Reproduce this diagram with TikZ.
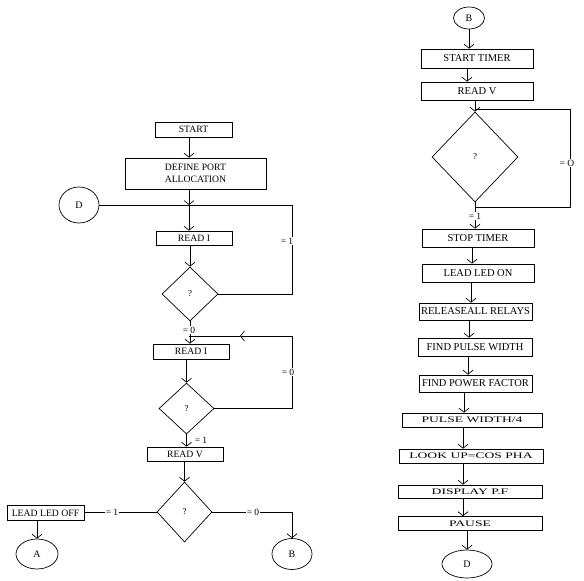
\documentclass[tikz,border=0pt]{standalone}
\usepackage{fontspec}
\setmainfont{Liberation Serif}
\usetikzlibrary{shapes.geometric,arrows.meta}
\begin{document}
\begin{tikzpicture}[x=1pt,y=-1pt,line width=0.7pt,
  >={Straight Barb[length=4pt,width=10pt]},
  arr/.style={->},
  boxL/.style={draw,rectangle,inner sep=0pt,font=\fontsize{9.7}{12}\selectfont,align=center},
  boxR/.style={draw,rectangle,inner sep=0pt,font=\fontsize{10.5}{12}\selectfont},
  boxW/.style={draw,rectangle,inner sep=0pt},
  dia/.style={draw,diamond,inner sep=0pt,font=\fontsize{9}{10}\selectfont},
  conn/.style={draw,ellipse,inner sep=0pt,font=\fontsize{10}{12}\selectfont},
  lbl/.style={fill=white,inner sep=0.8pt,font=\fontsize{9.5}{10}\selectfont}]
\useasboundingbox (0,0) rectangle (584,581);
% ---------- left column ----------
\node[boxL,minimum width=77pt,minimum height=15pt] (start) at (193.5,129.5) {START};
\node[boxL,minimum width=141pt,minimum height=31pt] (define) at (195.5,173.5) {DEFINE PORT\\ALLOCATION};
\node[conn,minimum width=40pt,minimum height=36pt] (D) at (79,205) {D};
\coordinate (J) at (189,205);
\coordinate (R1) at (292,205);
\node[boxL,minimum width=76pt,minimum height=14pt] (readI) at (194,238) {READ I};
\node[dia,minimum width=56pt,minimum height=54pt] (d1) at (190,294) {?};
\node[boxL,minimum width=76pt,minimum height=15pt] (readII) at (191,351.5) {READ I};
\coordinate (J2) at (189,336);
\coordinate (R2) at (292,336);
\coordinate (M2) at (240,336);
\node[dia,minimum width=55pt,minimum height=51pt] (d2) at (186.5,408.5) {?};
\node[boxL,minimum width=76pt,minimum height=14pt] (readV) at (185,454) {READ V};
\node[dia,minimum width=55pt,minimum height=60pt] (d3) at (184.5,512) {?};
\node[boxL,minimum width=77pt,minimum height=15pt] (ledoff) at (45.5,513) {LEAD LED OFF};
\node[conn,minimum width=42pt,minimum height=30pt] (A) at (37,554) {A};
\node[conn,minimum width=40pt,minimum height=31pt] (B) at (292,554) {B};

\draw[arr] (start.south -| J) -- (J |- define.north);
\draw[arr] (define.south -| J) -- (J);
\draw (D.east) -- (J);
\draw[arr] (J) -- (J |- readI.north);
\draw[arr] (readI.south -| d1.north) -- (d1.north);
\draw (d1.east) -| (R1) -- (J);
\node[lbl] (l1) at (287,241) {= 1};
\draw[arr] (d1.south) -- (d1.south |- readII.north);
\node[lbl] (l2) at (189,330) {= 0};
\draw (d2.east) -| (R2);
\draw[arr] (R2) -- (M2);
\draw (M2) -- (J2);
\node[lbl] (l3) at (288,372) {= 0};
\draw[arr] (readII.south -| d2.north) -- (d2.north);
\draw[arr] (d2.south) -- (d2.south |- readV.north);
\node[lbl,fill=none] (l4) at (201,440) {= 1};
\draw[arr] (readV.south -| d3.north) -- (d3.north);
\draw (d3.west) -- (ledoff.east |- d3.west);
\node[lbl] (l5) at (112,512) {= 1};
\draw[arr] (ledoff.south -| A.north) -- (A.north);
\draw[arr] (d3.east) -| (B.north);
\node[lbl] (l6) at (253,512) {= 0};
% ---------- right column ----------
\node[conn,minimum width=31pt,minimum height=22pt] (Btop) at (469,18) {B};
\node[boxR,minimum width=112pt,minimum height=19pt] (stimer) at (477,58.5) {START TIMER};
\node[boxR,minimum width=112pt,minimum height=18pt] (readV2) at (477,91) {READ V};
\node[dia,minimum width=86pt,minimum height=90pt] (d4) at (475,157) {?};
\coordinate (K1) at (475,109);
\coordinate (K2) at (570,109);
\coordinate (K3) at (570,207);
\coordinate (K4) at (475,207);
\node[boxR,minimum width=112pt,minimum height=18pt] (stop) at (478,238) {STOP TIMER};
\node[boxR,minimum width=112pt,minimum height=18pt] (ledon) at (478,273) {LEAD LED ON};
\node[boxR,minimum width=113pt,minimum height=17pt] (release) at (475.5,311.5) {RELEASEALL RELAYS};
\node[boxR,minimum width=114pt,minimum height=18pt] (findpw) at (475,347) {FIND PULSE WIDTH};
\node[boxR,minimum width=113pt,minimum height=17pt] (findpf) at (475.5,383.5) {FIND POWER FACTOR};
\node[boxW,minimum width=140pt,minimum height=14pt] (pw4) at (472,420) {\scalebox{1.6}[1]{\fontsize{8.5}{9}\selectfont PULSE WIDTH/4}};
\node[boxW,minimum width=144pt,minimum height=14pt] (lookup) at (471,456) {\scalebox{1.6}[1]{\fontsize{8.5}{9}\selectfont LOOK UP=COS PHA}};
\node[boxW,minimum width=144pt,minimum height=13pt] (display) at (470,491.5) {\scalebox{1.6}[1]{\fontsize{8.5}{9}\selectfont DISPLAY P.F}};
\node[boxW,minimum width=144pt,minimum height=14pt] (pause) at (470,523.5) {\scalebox{1.6}[1]{\fontsize{8.5}{9}\selectfont PAUSE}};
\node[conn,minimum width=50pt,minimum height=28pt] (Dbot) at (467,564) {D};

\draw[arr] (Btop.south) -- (Btop.south |- stimer.north);
\draw[arr] ([xshift=-10pt]stimer.south) coordinate (t1) -- (t1 |- readV2.north);
\draw[arr] (readV2.south -| d4.north) -- (d4.north);
\draw (K1) -- (K2) -- (K3) -- (K4);
\node[lbl] (l7) at (567,163) {= O};
\draw[arr] (d4.south) -- (d4.south |- stop.north);
\node[lbl] (l8) at (475,216) {= 1};
\draw[arr] ([xshift=-6pt]stop.south) coordinate (t2) -- (t2 |- ledon.north);
\draw[arr] ([xshift=-7pt]ledon.south) coordinate (t3) -- (t3 |- release.north);
\draw[arr] ([xshift=-6.5pt]release.south) coordinate (t4) -- (t4 |- findpw.north);
\draw[arr] ([xshift=-7pt]findpw.south) coordinate (t5) -- (t5 |- findpf.north);
\draw[arr] ([xshift=-11.5pt]findpf.south) coordinate (t6) -- (t6 |- pw4.north);
\draw[arr] ([xshift=-9pt]pw4.south) coordinate (t7) -- (t7 |- lookup.north);
\draw[arr] ([xshift=-8pt]lookup.south) coordinate (t8) -- (t8 |- display.north);
\draw[arr] ([xshift=-7pt]display.south) coordinate (t9) -- (t9 |- pause.north);
\draw[arr] (pause.south -| Dbot.north) -- (Dbot.north);
\end{tikzpicture}
\end{document}
